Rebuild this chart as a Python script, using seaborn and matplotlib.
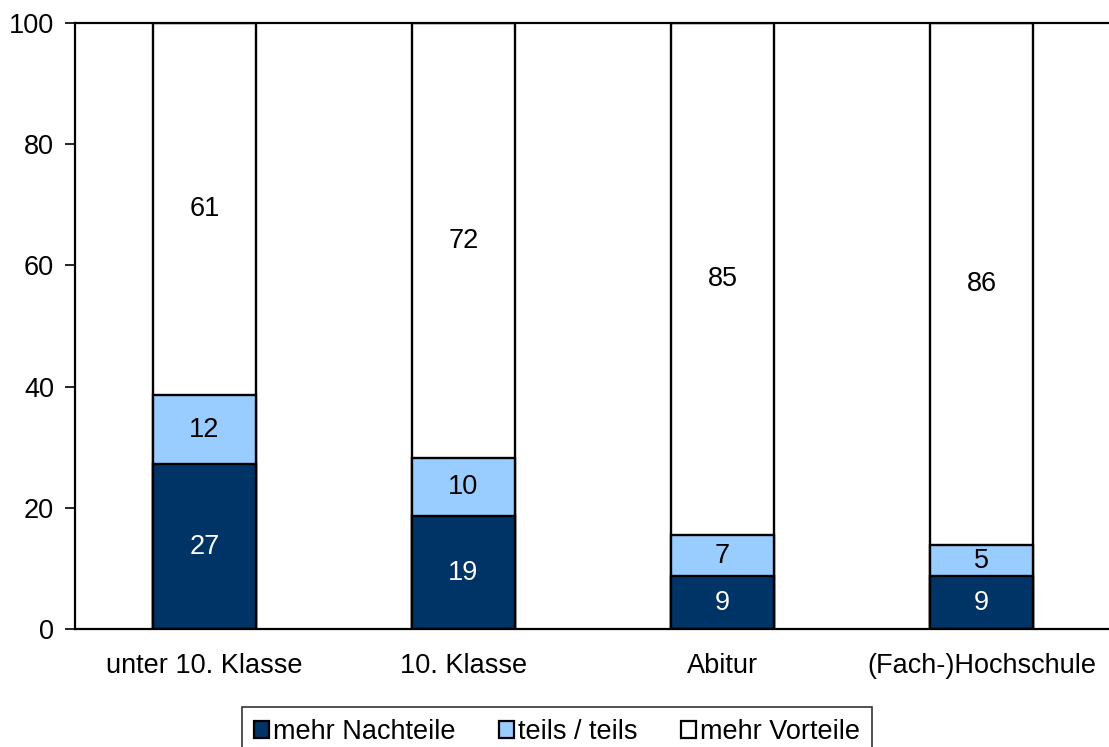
import numpy as np
import pandas as pd
import matplotlib
matplotlib.use("Agg")
import matplotlib.pyplot as plt
import seaborn as sns
from matplotlib.patches import Patch

categories = ["unter 10. Klasse", "10. Klasse", "Abitur", "(Fach-)Hochschule"]
series_names = ["mehr Nachteile", "teils / teils", "mehr Vorteile"]
nachteile = [27.2, 18.6, 8.7, 8.7]
teils = [11.4, 9.6, 6.8, 5.2]
vorteile = [61.4, 71.8, 84.5, 86.1]
label_nachteile = ["27", "19", "9", "9"]
label_teils = ["12", "10", "7", "5"]
label_vorteile = ["61", "72", "85", "86"]
yticks = [0, 20, 40, 60, 80, 100]

colors = ["#003366", "#99CCFF", "#FFFFFF"]
text_colors = ["white", "black", "black"]

sns.set_style("white")
plt.rcParams["font.family"] = ["Liberation Sans", "DejaVu Sans"]
FS = 19.5

fig = plt.figure(figsize=(11.09, 7.47), dpi=100)
ax = fig.add_axes([75 / 1109, 1 - 629 / 747, 1036 / 1109, 606 / 747])

segs = [nachteile, teils, vorteile]
labels = [label_nachteile, label_teils, label_vorteile]
cum = np.cumsum(np.array(segs), axis=0)

# draw cumulative bars from top series down so they stack visually
for i in [2, 1, 0]:
    df = pd.DataFrame({"cat": categories, "val": cum[i]})
    sns.barplot(data=df, x="cat", y="val", color=colors[i], saturation=1,
                width=0.40, edgecolor="black", linewidth=1.7, ax=ax,
                order=categories)

for i in range(3):
    bottoms = cum[i] - np.array(segs[i])
    for j, cat in enumerate(categories):
        yc = bottoms[j] + segs[i][j] / 2
        ax.text(j, yc, labels[i][j], ha="center", va="center",
                color=text_colors[i], fontsize=FS)

ax.set_ylim(0, 100)
ax.set_xlim(-0.5, 3.5)
ax.set_yticks(yticks)
ax.set_yticklabels([str(v) for v in yticks], fontsize=FS, color="black")
ax.set_xlabel("")
ax.set_ylabel("")
ax.set_xticks(range(len(categories)))
ax.set_xticklabels(categories, fontsize=FS, color="black")
ax.tick_params(axis="x", which="major", length=0, pad=17)
ax.set_xticks([0.5, 1.5, 2.5], minor=True)
ax.tick_params(axis="x", which="minor", length=6, width=1.2, color="#555555", direction="out")
ax.tick_params(axis="y", length=7, width=1.2, direction="out", pad=8, color="black", left=True)

for s in ["left", "bottom", "top"]:
    ax.spines[s].set_visible(True)
    ax.spines[s].set_color("black")
    ax.spines[s].set_linewidth(1.6)
ax.spines["right"].set_visible(False)
ax.grid(False)

handles = [Patch(facecolor=colors[k], edgecolor="black", linewidth=1.6) for k in range(3)]
leg = fig.legend(handles, series_names, loc="upper center",
                 bbox_to_anchor=(557 / 1109, 1 - 707 / 747), ncol=3,
                 fontsize=FS, frameon=True, fancybox=False, edgecolor="black",
                 handlelength=0.55, handleheight=0.55, handletextpad=0.15,
                 columnspacing=1.6, borderpad=0.45, borderaxespad=0)
leg.get_frame().set_linewidth(1.2)
for t in leg.get_texts():
    t.set_color("black")

fig.savefig("out.png", dpi=100)
